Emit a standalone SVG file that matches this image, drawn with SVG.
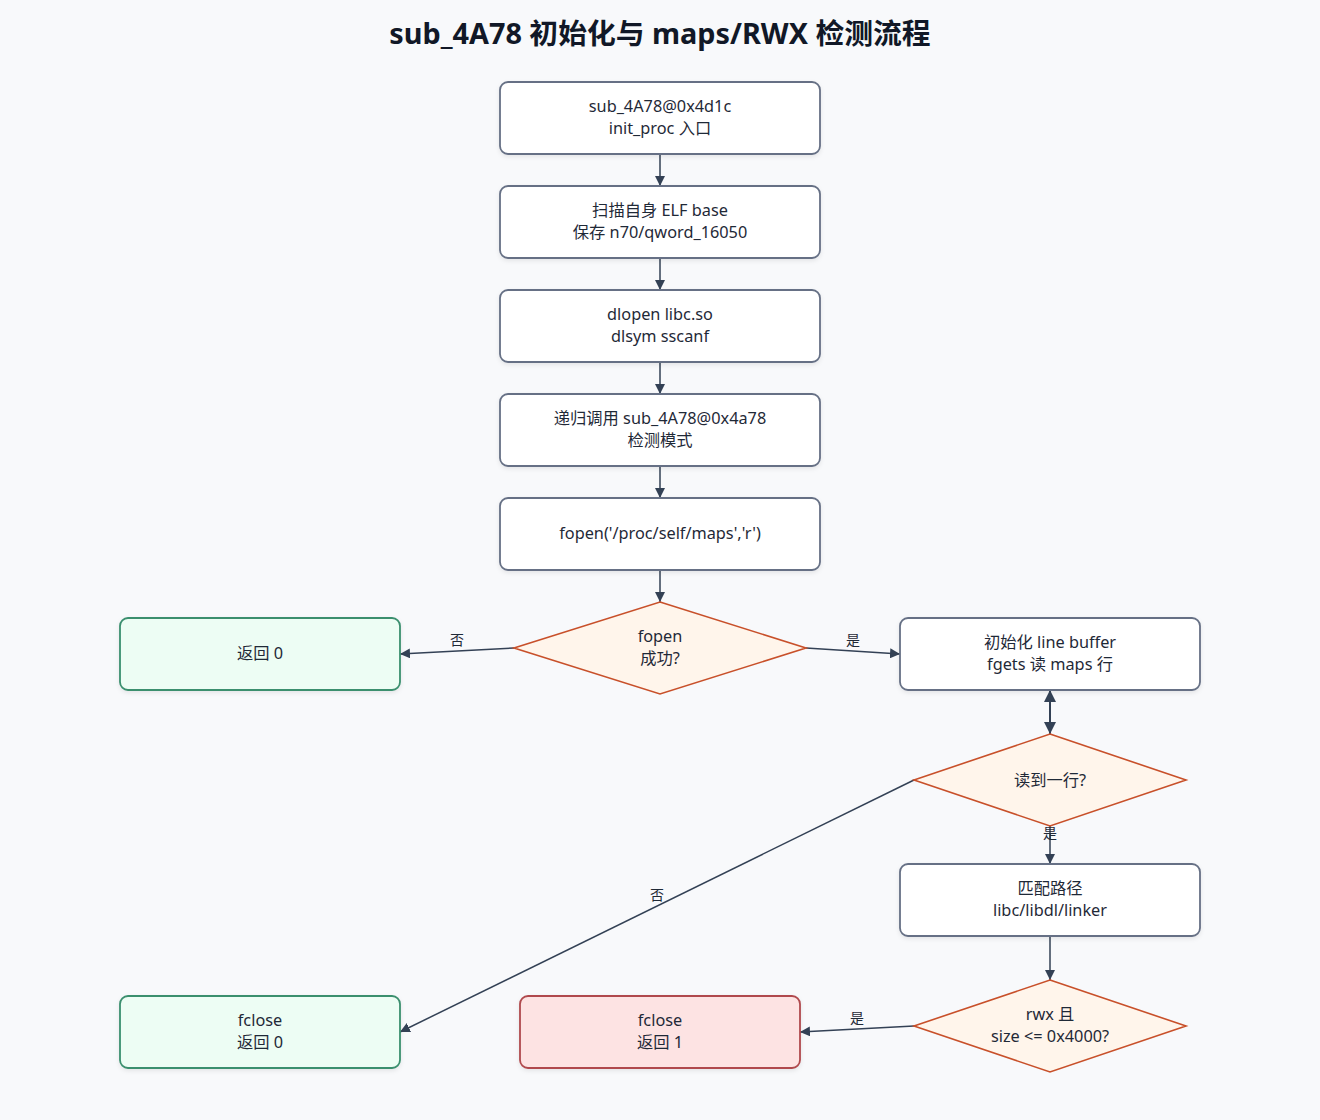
<svg xmlns="http://www.w3.org/2000/svg" width="1320" height="1120" viewBox="0 0 1320 1120">
<defs>
<marker id="arr" viewBox="0 0 10 10" refX="10" refY="5" markerWidth="10" markerHeight="10" markerUnits="userSpaceOnUse" orient="auto-start-reverse">
<path d="M0,0 L10,5 L0,10 z" fill="#334155"/>
</marker>
<marker id="arrL" viewBox="0 0 10 10" refX="10" refY="5" markerWidth="14" markerHeight="12" markerUnits="userSpaceOnUse" orient="auto-start-reverse">
<path d="M0,0 L10,5 L0,10 z" fill="#334155"/>
</marker>
<filter id="sh" x="-10%" y="-10%" width="120%" height="130%">
<feDropShadow dx="0" dy="2" stdDeviation="2" flood-color="#000" flood-opacity="0.08"/>
</filter>
</defs>
<style>
text{font-family:"Noto Sans","Noto Sans CJK SC",sans-serif;font-size:16.3px;fill:#1f2937;text-anchor:middle}
.title{font-size:28.8px;font-weight:bold;fill:#111827}
.box{fill:#ffffff;stroke:#667085;stroke-width:1.8;filter:url(#sh)}
.ok{fill:#edfdf4;stroke:#3a8f6e;stroke-width:1.8;filter:url(#sh)}
.bad{fill:#fde3e3;stroke:#b04a4e;stroke-width:1.8;filter:url(#sh)}
.dia{fill:#fff5eb;stroke:#c8502a;stroke-width:1.6}
.c{fill:none;stroke:#334155;stroke-width:1.5;marker-end:url(#arr)}
.lbl{font-size:14px}
</style>
<rect width="1320" height="1120" fill="#f8f9fb"/>
<text class="title" x="660" y="44">sub_4A78 初始化与 maps/RWX 检测流程</text>

<g id="connectors">
<line class="c" x1="660" y1="154" x2="660" y2="186"/>
<line class="c" x1="660" y1="258" x2="660" y2="290"/>
<line class="c" x1="660" y1="362" x2="660" y2="394"/>
<line class="c" x1="660" y1="466" x2="660" y2="498"/>
<line class="c" x1="660" y1="570" x2="660" y2="602"/>
<line class="c" x1="514" y1="648" x2="400" y2="654"/>
<text class="lbl" x="457" y="645">否</text>
<line class="c" x1="806" y1="648" x2="900" y2="654"/>
<text class="lbl" x="853" y="645">是</text>
<line fill="none" stroke="#334155" stroke-width="2" marker-start="url(#arrL)" marker-end="url(#arrL)" x1="1050" y1="690" x2="1050" y2="734"/>
<line class="c" x1="1050" y1="826" x2="1050" y2="864"/>
<text class="lbl" x="1050" y="838">是</text>
<line class="c" x1="914" y1="780" x2="400" y2="1032"/>
<text class="lbl" x="657" y="900">否</text>
<line class="c" x1="1050" y1="936" x2="1050" y2="980"/>
<line class="c" x1="914" y1="1026" x2="800" y2="1032"/>
<text class="lbl" x="857" y="1023">是</text>
</g>

<g id="n1"><rect class="box" x="500" y="82" width="320" height="72" rx="8"/><text x="660" y="112">sub_4A78@0x4d1c</text><text x="660" y="134">init_proc 入口</text></g>
<g id="n2"><rect class="box" x="500" y="186" width="320" height="72" rx="8"/><text x="660" y="216">扫描自身 ELF base</text><text x="660" y="238">保存 n70/qword_16050</text></g>
<g id="n3"><rect class="box" x="500" y="290" width="320" height="72" rx="8"/><text x="660" y="320">dlopen libc.so</text><text x="660" y="342">dlsym sscanf</text></g>
<g id="n4"><rect class="box" x="500" y="394" width="320" height="72" rx="8"/><text x="660" y="424">递归调用 sub_4A78@0x4a78</text><text x="660" y="446">检测模式</text></g>
<g id="n5"><rect class="box" x="500" y="498" width="320" height="72" rx="8"/><text x="660" y="539">fopen('/proc/self/maps','r')</text></g>
<g id="d1"><polygon class="dia" points="660,602 806,648 660,694 514,648"/><text x="660" y="642">fopen</text><text x="660" y="664">成功?</text></g>
<g id="r0"><rect class="ok" x="120" y="618" width="280" height="72" rx="8"/><text x="260" y="659">返回 0</text></g>
<g id="n6"><rect class="box" x="900" y="618" width="300" height="72" rx="8"/><text x="1050" y="648">初始化 line buffer</text><text x="1050" y="670">fgets 读 maps 行</text></g>
<g id="d2"><polygon class="dia" points="1050,734 1186,780 1050,826 914,780"/><text x="1050" y="786">读到一行?</text></g>
<g id="n7"><rect class="box" x="900" y="864" width="300" height="72" rx="8"/><text x="1050" y="894">匹配路径</text><text x="1050" y="916">libc/libdl/linker</text></g>
<g id="d3"><polygon class="dia" points="1050,980 1186,1026 1050,1072 914,1026"/><text x="1050" y="1020">rwx 且</text><text x="1050" y="1042">size &lt;= 0x4000?</text></g>
<g id="r1"><rect class="bad" x="520" y="996" width="280" height="72" rx="8"/><text x="660" y="1026">fclose</text><text x="660" y="1048">返回 1</text></g>
<g id="r0b"><rect class="ok" x="120" y="996" width="280" height="72" rx="8"/><text x="260" y="1026">fclose</text><text x="260" y="1048">返回 0</text></g>
</svg>
